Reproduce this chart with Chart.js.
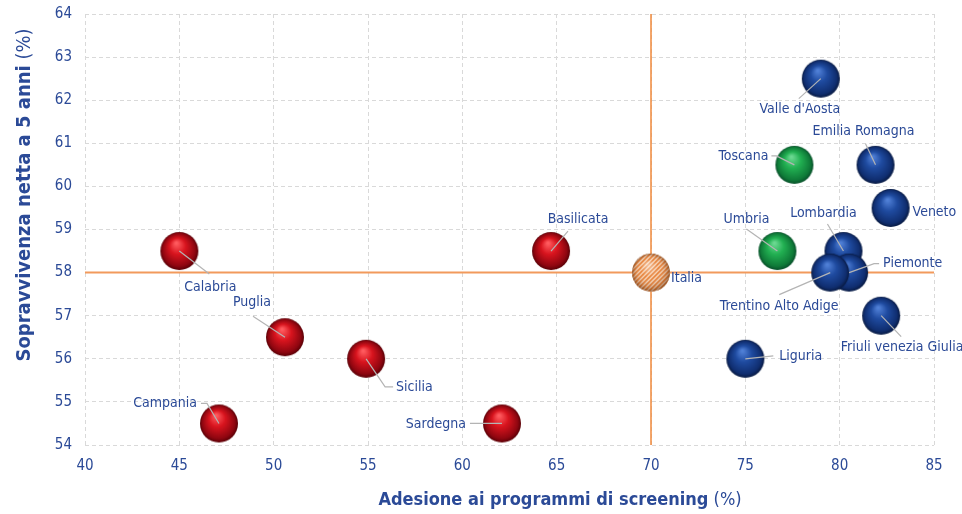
<!DOCTYPE html>
<html>
<head>
<meta charset="utf-8">
<script src="https://cdn.jsdelivr.net/npm/chart.js@4.4.0/dist/chart.umd.min.js"></script>
<style>
  html, body { margin: 0; padding: 0; background: #fff; }
  #wrap { width: 962px; height: 514px; }
</style>
</head>
<body>
<div id="wrap"><canvas id="chart"></canvas></div>
<script>
// data
const regions = ['Calabria', 'Puglia', 'Sicilia', 'Campania', 'Sardegna', 'Basilicata', 'Italia',
  'Toscana', 'Umbria', "Valle d'Aosta", 'Emilia Romagna', 'Veneto', 'Lombardia', 'Piemonte',
  'Trentino Alto Adige', 'Friuli venezia Giulia', 'Liguria'];
const adesione = [45, 50.6, 54.9, 47.1, 62.1, 64.7, 70, 77.6, 76.7, 79, 81.9, 82.7, 80.2, 80.5, 79.5, 82.2, 75];
const sopravvivenza = [58.5, 56.5, 56, 54.5, 54.5, 58.5, 58, 60.5, 58.5, 62.5, 60.5, 59.5, 58.5, 58, 58, 57, 56];
const gruppo = ['sud', 'sud', 'sud', 'sud', 'sud', 'sud', 'italia', 'centro', 'centro',
  'nord', 'nord', 'nord', 'nord', 'nord', 'nord', 'nord', 'nord'];
const mediaAdesione = 70;
const mediaSopravvivenza = 58;

// label placement: text offset, alignment, leader line points (offsets from the bubble centre)
const labelPos = [
  [31, 36, 'center', [[30, 23]]],
  [-33, -35, 'center', [[-32, -21]]],
  [30, 29, 'left', [[19, 28], [27, 28]]],
  [-22, -20, 'right', [[-12, -20], [-18, -20]]],
  [-36, 1, 'right', [[-32, 0]]],
  [27, -32, 'center', [[17, -20]]],
  [20, 6, 'left', []],
  [-26, -8, 'right', [[-18, -9], [-23, -9]]],
  [-31, -32, 'center', [[-31, -22]]],
  [-21, 31, 'center', [[-22, 20]]],
  [-12, -33, 'center', [[-10, -21]]],
  [22, 4, 'left', []],
  [-20, -38, 'center', [[-16, -27]]],
  [34, -9, 'left', [[25, -9], [30, -9]]],
  [-51, 34, 'center', [[-51, 22]]],
  [21, 32, 'center', [[20, 21]]],
  [34, -2, 'left', [[28, -3]]]
];

const FONT = 'Tahoma, "DejaVu Sans Condensed", "DejaVu Sans", sans-serif';
const TEXT_COL = '#2b4a97';
const R = 19;

function sphere(light, base, dark, edge) {
  const c = document.createElement('canvas');
  c.width = c.height = 2 * R + 2;
  const g = c.getContext('2d');
  const cx = R + 1, cy = R + 1;
  const grad = g.createRadialGradient(cx - 3, cy - 8, 1, cx, cy, R);
  grad.addColorStop(0, light);
  grad.addColorStop(0.4, base);
  grad.addColorStop(0.85, dark);
  grad.addColorStop(1, edge);
  g.fillStyle = grad;
  g.beginPath();
  g.arc(cx, cy, R, 0, Math.PI * 2);
  g.fill();
  return c;
}

function stripedSphere() {
  const c = document.createElement('canvas');
  c.width = c.height = 2 * R + 2;
  const g = c.getContext('2d');
  const cx = R + 1, cy = R + 1;
  g.save();
  g.beginPath();
  g.arc(cx, cy, R, 0, Math.PI * 2);
  g.clip();
  g.fillStyle = '#fbe8d6';
  g.fillRect(0, 0, c.width, c.height);
  g.strokeStyle = '#e8843c';
  g.lineWidth = 2;
  for (let k = -2 * R; k < 4 * R; k += 4.5) {
    g.beginPath();
    g.moveTo(k, 0);
    g.lineTo(k - 2 * R - 2, 2 * R + 2);
    g.stroke();
  }
  const grad = g.createRadialGradient(cx - 3, cy - 8, 1, cx, cy, R);
  grad.addColorStop(0, 'rgba(255,255,255,0.45)');
  grad.addColorStop(0.45, 'rgba(255,255,255,0)');
  grad.addColorStop(0.85, 'rgba(90,40,10,0.25)');
  grad.addColorStop(1, 'rgba(70,30,5,0.5)');
  g.fillStyle = grad;
  g.fillRect(0, 0, c.width, c.height);
  g.restore();
  return c;
}

const styles = {
  sud: sphere('#ff5a5e', '#d8141e', '#8e0610', '#5a0006'),
  nord: sphere('#4f7fd6', '#1f4ba0', '#102e70', '#081a42'),
  centro: sphere('#6ad890', '#22b052', '#0f7a38', '#08502a'),
  italia: stripedSphere()
};

const refLines = {
  id: 'refLines',
  beforeDatasetsDraw(chart) {
    const { ctx, chartArea, scales } = chart;
    const px = scales.x.getPixelForValue(mediaAdesione);
    const py = scales.y.getPixelForValue(mediaSopravvivenza);
    ctx.save();
    ctx.strokeStyle = '#f29a5c';
    ctx.lineWidth = 2;
    ctx.beginPath();
    ctx.moveTo(chartArea.left, py);
    ctx.lineTo(chartArea.right, py);
    ctx.stroke();
    ctx.strokeStyle = '#f0883a';
    ctx.lineWidth = 1.5;
    ctx.beginPath();
    ctx.moveTo(px, chartArea.top);
    ctx.lineTo(px, chartArea.bottom);
    ctx.stroke();
    ctx.restore();
  }
};

const pointLabels = {
  id: 'pointLabels',
  afterDatasetsDraw(chart) {
    const { ctx } = chart;
    const meta = chart.getDatasetMeta(0);
    ctx.save();
    ctx.font = '14px ' + FONT;
    ctx.textBaseline = 'middle';
    meta.data.forEach((pt, i) => {
      const [dx, dy, align, line] = labelPos[i];
      if (line.length) {
        ctx.strokeStyle = '#b4b4b4';
        ctx.lineWidth = 1.2;
        ctx.beginPath();
        ctx.moveTo(pt.x, pt.y);
        line.forEach(p => ctx.lineTo(pt.x + p[0], pt.y + p[1]));
        ctx.stroke();
      }
      ctx.fillStyle = TEXT_COL;
      ctx.textAlign = align;
      ctx.fillText(regions[i], pt.x + dx, pt.y + dy);
    });
    ctx.restore();
  }
};

// axis titles: bold text followed by a normal "(%)"
const axisTitles = {
  id: 'axisTitles',
  afterDraw(chart) {
    const { ctx } = chart;
    function drawTitle(main, size, cx, cy, rot) {
      const bold = 'bold ' + size + 'px ' + FONT;
      const norm = size + 'px ' + FONT;
      ctx.save();
      ctx.translate(cx, cy);
      ctx.rotate(rot);
      ctx.font = bold;
      const w1 = ctx.measureText(main).width;
      ctx.font = norm;
      const w2 = ctx.measureText(' (%)').width;
      const x0 = -(w1 + w2) / 2;
      ctx.textBaseline = 'middle';
      ctx.textAlign = 'left';
      ctx.fillStyle = TEXT_COL;
      ctx.font = bold;
      ctx.fillText(main, x0, 0);
      ctx.font = norm;
      ctx.fillText(' (%)', x0 + w1, 0);
      ctx.restore();
    }
    drawTitle('Adesione ai programmi di screening', 18, 560, 500, 0);
    drawTitle('Sopravvivenza netta a 5 anni', 20, 25, 195, -Math.PI / 2);
  }
};

new Chart(document.getElementById('chart'), {
  type: 'scatter',
  data: {
    labels: regions,
    datasets: [{
      data: adesione.map((v, i) => ({ x: v, y: sopravvivenza[i] })),
      pointStyle: ctx => styles[gruppo[ctx.dataIndex]],
      pointRadius: R,
      pointHoverRadius: R,
      clip: false
    }]
  },
  options: {
    responsive: true,
    maintainAspectRatio: false,
    animation: false,
    layout: { autoPadding: false, padding: { left: 0, right: 28, top: 14, bottom: 0 } },
    plugins: { legend: { display: false }, tooltip: { enabled: false } },
    scales: {
      x: {
        type: 'linear', min: 40, max: 85,
        ticks: { stepSize: 5, color: TEXT_COL, font: { family: FONT, size: 15 }, padding: 12 },
        grid: { color: '#d9d9d9', drawTicks: false, lineWidth: 1 },
        border: { display: false, dash: [4, 3] },
        afterFit: s => { s.height = 69; s.paddingLeft = 0; s.paddingRight = 0; }
      },
      y: {
        type: 'linear', min: 54, max: 64,
        ticks: { stepSize: 1, color: TEXT_COL, font: { family: FONT, size: 15 }, padding: 13 },
        grid: { color: '#d9d9d9', drawTicks: false, lineWidth: 1 },
        border: { display: false, dash: [4, 3] },
        afterFit: s => { s.width = 85; s.paddingTop = 0; s.paddingBottom = 0; }
      }
    }
  },
  plugins: [refLines, pointLabels, axisTitles]
});
</script>
</body>
</html>
